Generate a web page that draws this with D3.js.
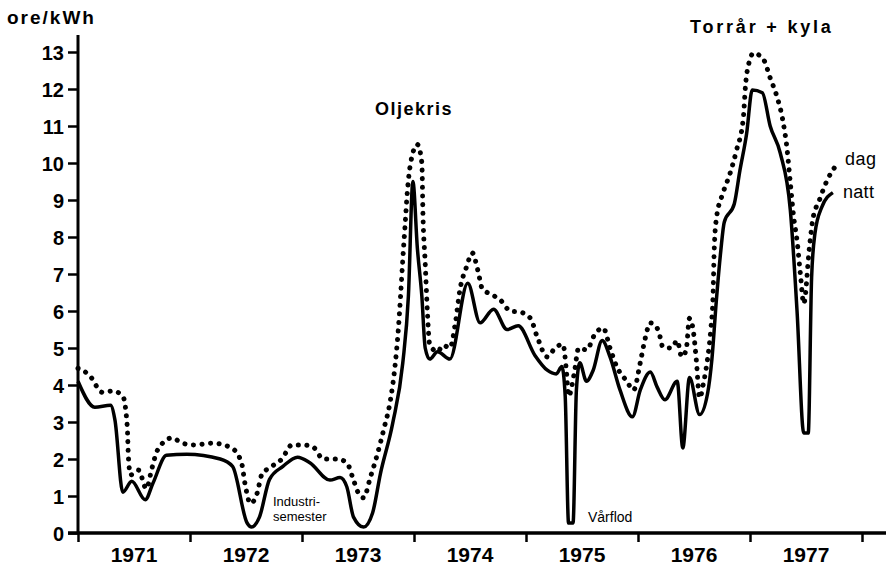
<!DOCTYPE html>
<html>
<head>
<meta charset="utf-8">
<script src="https://cdn.jsdelivr.net/npm/d3@7"></script>
<style>
  body { margin: 0; background: #fff; }
  svg { display: block; font-family: "Liberation Sans", Arial, sans-serif; }
  .tick text { font-weight: bold; }
</style>
</head>
<body>
<svg id="chart" width="886" height="567"></svg>
<script>
// elpris, ore/kWh, 1971-1977 (dag = dotted, natt = solid)
var years = [1971, 1972, 1973, 1974, 1975, 1976, 1977];
var yTicks = [0, 1, 2, 3, 4, 5, 6, 7, 8, 9, 10, 11, 12, 13];

var nattT = [1971.00, 1971.15, 1971.29, 1971.33, 1971.40, 1971.48, 1971.60, 1971.67, 1971.79, 1971.97,
	1972.27, 1972.38, 1972.51, 1972.55, 1972.62, 1972.71, 1972.83, 1972.96,
	1973.07, 1973.25, 1973.34, 1973.40, 1973.46, 1973.55, 1973.63, 1973.70, 1973.81, 1973.90, 1973.95, 1973.99,
	1974.03, 1974.07, 1974.10, 1974.14, 1974.21, 1974.32, 1974.48, 1974.59, 1974.71, 1974.83, 1974.93,
	1975.08, 1975.19, 1975.27, 1975.32, 1975.35, 1975.38, 1975.42, 1975.45, 1975.48, 1975.54, 1975.60, 1975.68, 1975.75, 1975.84, 1975.95,
	1976.02, 1976.11, 1976.17, 1976.24, 1976.35, 1976.40, 1976.46, 1976.55, 1976.62, 1976.66, 1976.70, 1976.74, 1976.77, 1976.86, 1976.91, 1976.97,
	1977.02, 1977.11, 1977.18, 1977.27, 1977.36, 1977.42, 1977.48, 1977.52, 1977.55, 1977.58, 1977.64, 1977.74];
var nattV = [4.1, 3.4, 3.45, 3.05, 1.1, 1.4, 0.9, 1.35, 2.1, 2.13,
	2.0, 1.8, 0.27, 0.16, 0.43, 1.45, 1.8, 2.05,
	1.9, 1.43, 1.5, 1.25, 0.43, 0.16, 0.54, 1.6, 2.97, 4.6, 6.4, 9.5,
	7.7, 6.4, 5.0, 4.7, 4.9, 4.7, 6.75, 5.68, 6.05, 5.5, 5.6,
	4.8, 4.4, 4.3, 4.5, 3.7, 0.27, 0.27, 3.86, 4.6, 4.1, 4.4, 5.2, 4.76, 3.86, 3.14,
	3.86, 4.35, 3.95, 3.6, 4.1, 2.3, 4.2, 3.2, 3.75, 4.7, 6.3, 7.65, 8.4, 8.9, 9.8, 10.8,
	11.97, 11.9, 11.0, 10.27, 8.73, 6.0, 2.7, 2.7, 6.9, 8.1, 8.8, 9.2];

var dagT = [1971.00, 1971.10, 1971.22, 1971.31, 1971.40, 1971.44, 1971.45, 1971.47, 1971.54, 1971.61, 1971.66, 1971.71, 1971.84, 1971.93,
	1972.04, 1972.20, 1972.37, 1972.46, 1972.49, 1972.54, 1972.60, 1972.64, 1972.73, 1972.82, 1972.91,
	1973.01, 1973.10, 1973.19, 1973.31, 1973.40, 1973.46, 1973.50, 1973.55, 1973.61, 1973.67, 1973.73, 1973.79, 1973.83, 1973.86, 1973.88, 1973.90, 1973.92, 1973.94, 1973.97,
	1974.03, 1974.07, 1974.08, 1974.10, 1974.12, 1974.14, 1974.21, 1974.26, 1974.32, 1974.37, 1974.41, 1974.47, 1974.52, 1974.57, 1974.61, 1974.69, 1974.77, 1974.86, 1974.95,
	1975.04, 1975.10, 1975.19, 1975.26, 1975.33, 1975.36, 1975.38, 1975.43, 1975.47, 1975.54, 1975.62, 1975.69, 1975.75, 1975.81, 1975.90, 1975.96,
	1976.02, 1976.06, 1976.11, 1976.17, 1976.20, 1976.22, 1976.30, 1976.35, 1976.39, 1976.43, 1976.46, 1976.49, 1976.52, 1976.55, 1976.59, 1976.62, 1976.65, 1976.67, 1976.68, 1976.70, 1976.76, 1976.82, 1976.88, 1976.94, 1976.96,
	1977.00, 1977.03, 1977.12, 1977.18, 1977.24, 1977.29, 1977.33, 1977.36, 1977.39, 1977.42, 1977.45, 1977.48, 1977.53, 1977.56, 1977.62, 1977.69, 1977.76];
var dagV = [4.45, 4.27, 3.8, 3.84, 3.7, 2.86, 2.05, 1.57, 1.7, 1.2, 1.75, 2.24, 2.57, 2.43,
	2.38, 2.43, 2.3, 1.9, 1.35, 0.8, 1.08, 1.57, 1.8, 2.0, 2.38,
	2.38, 2.32, 2.0, 2.0, 1.9, 1.43, 1.1, 0.95, 1.5, 2.1, 2.8, 3.6, 4.5, 5.5, 6.4, 7.4, 8.3, 9.2, 10.0,
	10.5, 10.0, 8.6, 7.3, 5.95, 5.1, 4.9, 5.08, 5.0, 5.68, 6.57, 7.2, 7.57, 7.1, 6.6, 6.45, 6.3, 6.0, 5.97,
	5.8, 5.3, 4.76, 5.0, 5.1, 4.4, 3.7, 4.3, 5.0, 4.95, 5.4, 5.54, 5.0, 4.5, 4.1, 3.86,
	4.6, 5.2, 5.68, 5.54, 5.27, 5.03, 5.0, 5.2, 4.76, 4.95, 5.8, 5.54, 4.7, 3.65, 4.14, 4.68, 5.5, 6.4, 7.6, 8.5, 9.2, 9.7, 10.35, 11.2, 12.1,
	12.8, 12.97, 12.8, 12.3, 11.8, 11.2, 10.4, 9.46, 8.54, 7.9, 7.0, 6.2, 7.7, 8.46, 9.0, 9.54, 9.9];

var svg = d3.select("#chart");
var x = d3.scaleLinear().domain([1971, 1978]).range([78, 862]);
var y = d3.scaleLinear().domain([0, 13]).range([533, 52]);

var natt = nattT.map(function(t, i) { return { t: t, v: nattV[i] }; });
var dag = dagT.map(function(t, i) { return { t: t, v: dagV[i] }; });

var line = d3.line()
	.x(function(d) { return x(d.t); })
	.y(function(d) { return y(d.v); })
	.curve(d3.curveMonotoneX);

// axes
var yAxis = svg.append("g")
	.attr("transform", "translate(" + x(1971) + ",0)")
	.call(d3.axisLeft(y).tickValues(yTicks).tickSize(10).tickPadding(4).tickSizeOuter(0));
yAxis.select(".domain").remove();
yAxis.selectAll(".tick line").attr("stroke", "#000").attr("stroke-width", 2.5);
yAxis.selectAll(".tick text").attr("font-size", 20).attr("fill", "#000").attr("dy", "0.35em");

svg.append("line")
	.attr("x1", x(1971)).attr("x2", x(1971))
	.attr("y1", 35).attr("y2", y(0))
	.attr("stroke", "#000").attr("stroke-width", 3);

var xAxis = svg.append("g")
	.attr("transform", "translate(0," + y(0) + ")")
	.call(d3.axisBottom(x).tickValues(years.concat([1978])).tickFormat("").tickSize(9).tickSizeOuter(0));
xAxis.select(".domain").remove();
xAxis.selectAll(".tick line").attr("stroke", "#000").attr("stroke-width", 2.5);

svg.append("line")
	.attr("x1", 68).attr("x2", 886)
	.attr("y1", y(0)).attr("y2", y(0))
	.attr("stroke", "#000").attr("stroke-width", 3.5);

svg.append("g").selectAll("text")
	.data(years)
	.enter().append("text")
	.attr("x", function(d) { return x(d + 0.5); })
	.attr("y", 562)
	.attr("text-anchor", "middle")
	.attr("font-size", 21)
	.attr("font-weight", "bold")
	.text(function(d) { return d; });

svg.append("text")
	.attr("x", 7).attr("y", 24)
	.attr("font-size", 19).attr("font-weight", "bold")
	.attr("letter-spacing", 2)
	.text("ore/kWh");

// series
svg.append("path")
	.datum(dag)
	.attr("fill", "none")
	.attr("stroke", "#000")
	.attr("stroke-width", 5)
	.attr("stroke-linecap", "round")
	.attr("stroke-dasharray", "0.1,8.5")
	.attr("d", line);

svg.append("path")
	.datum(natt)
	.attr("fill", "none")
	.attr("stroke", "#000")
	.attr("stroke-width", 3.5)
	.attr("stroke-linejoin", "round")
	.attr("d", line);

// annotations
var notes = [
	{ text: "Oljekris", x: 375, y: 115, size: 18, weight: "bold", ls: 1.5 },
	{ text: "Torrår + kyla", x: 690, y: 33, size: 18, weight: "bold", ls: 2.8 },
	{ text: "Industri-", x: 273, y: 506, size: 13, weight: "normal", ls: 0 },
	{ text: "semester", x: 273, y: 521, size: 13, weight: "normal", ls: 0 },
	{ text: "Vårflod", x: 588, y: 522, size: 14, weight: "normal", ls: 0 },
	{ text: "dag", x: 845, y: 165, size: 18, weight: "normal", ls: 0.5 },
	{ text: "natt", x: 843, y: 198, size: 18, weight: "normal", ls: 0.3 }
];
svg.append("g").selectAll("text")
	.data(notes)
	.enter().append("text")
	.attr("x", function(d) { return d.x; })
	.attr("y", function(d) { return d.y; })
	.attr("font-size", function(d) { return d.size; })
	.attr("font-weight", function(d) { return d.weight; })
	.attr("letter-spacing", function(d) { return d.ls; })
	.text(function(d) { return d.text; });
</script>
</body>
</html>
